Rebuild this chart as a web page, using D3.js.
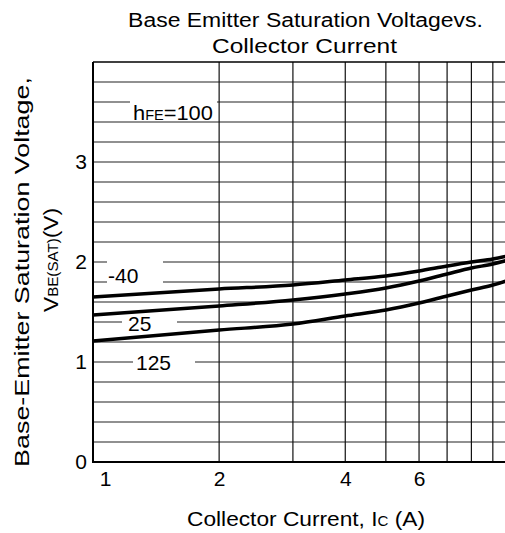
<!DOCTYPE html>
<html>
<head>
<meta charset="utf-8">
<script src="https://cdn.jsdelivr.net/npm/d3@7"></script>
<style>
    body { margin: 0; background: #fff; }
    svg { font-family: "Liberation Sans", Arial, sans-serif; display: block; }
</style>
</head>
<body>
<div id="chart"></div>
<script>

// collector current (A), log axis
const currents = [1, 2, 3, 4, 5, 6, 7, 8, 9, 10];

// VBE(SAT) in volts, hFE = 100
const vbeMinus40 = [1.65, 1.73, 1.77, 1.82, 1.86, 1.91, 1.96, 2.00, 2.03, 2.07];
const vbe25      = [1.47, 1.56, 1.62, 1.68, 1.74, 1.81, 1.88, 1.94, 1.98, 2.03];
const vbe125     = [1.21, 1.32, 1.38, 1.46, 1.52, 1.59, 1.66, 1.72, 1.77, 1.83];

const xTickValues = [1, 2, 4, 6];
const yTickValues = [0, 1, 2, 3];
const tempLabels = ["-40", "25", "125"];


class VbeChart {

    constructor(parentElement) {
        this.parentElement = parentElement;
        this.initVis();
    }

    initVis() {
        let vis = this;

        vis.margin = {top: 62, right: 0, bottom: 71, left: 93};
        vis.width = 419;
        vis.height = 400;

        vis.root = d3.select("#" + vis.parentElement).append("svg")
            .attr("width", 505)
            .attr("height", 533);

        vis.svg = vis.root.append("g")
            .attr("transform", "translate(" + vis.margin.left + "," + vis.margin.top + ")");

        vis.x = d3.scaleLog().domain([1, 10]).range([0, vis.width]);
        vis.y = d3.scaleLinear().domain([0, 4]).range([vis.height, 0]);

        vis.series = [
            {name: tempLabels[0], values: vbeMinus40},
            {name: tempLabels[1], values: vbe25},
            {name: tempLabels[2], values: vbe125}
        ];

        vis.updateVis();
    }

    // squeeze/stretch a text so it spans the given width
    fit(sel, w, x, y, rot) {
        let natural = sel.node().getComputedTextLength();
        let s = w / natural;
        sel.attr("transform", "translate(" + x + "," + y + ")" + (rot ? " rotate(-90)" : "") + " scale(" + s + ",1)");
    }

    updateVis() {
        let vis = this;

        // horizontal grid, every 0.2 V
        let hLines = d3.range(1, 20).map(i => i * 0.2);
        vis.svg.selectAll("line.hgrid")
            .data(hLines)
            .enter().append("line")
            .attr("class", "hgrid")
            .attr("x1", 0).attr("x2", vis.width)
            .attr("y1", d => vis.y(d)).attr("y2", d => vis.y(d))
            .attr("stroke", "#222")
            .attr("stroke-width", 1.2);

        // vertical grid at 2..9 A
        vis.svg.selectAll("line.vgrid")
            .data(d3.range(2, 10))
            .enter().append("line")
            .attr("class", "vgrid")
            .attr("x1", d => vis.x(d)).attr("x2", d => vis.x(d))
            .attr("y1", 0).attr("y2", vis.height)
            .attr("stroke", "#111")
            .attr("stroke-width", 1.2);

        // frame
        vis.svg.append("line")
            .attr("x1", 0).attr("x2", vis.width).attr("y1", 0).attr("y2", 0)
            .attr("stroke", "#000").attr("stroke-width", 1.5);
        vis.svg.append("line")
            .attr("x1", 0).attr("x2", 0).attr("y1", 0).attr("y2", vis.height + 1)
            .attr("stroke", "#000").attr("stroke-width", 2);
        vis.svg.append("line")
            .attr("x1", 0).attr("x2", vis.width).attr("y1", vis.height).attr("y2", vis.height)
            .attr("stroke", "#000").attr("stroke-width", 2);

        // label backgrounds that cut the grid
        let boxes = [
            {x: 37, y: 33, w: 87, h: 22},
            {x: 14, y: 193, w: 56, h: 29},
            {x: 29, y: 254, w: 55, h: 10},
            {x: 40, y: 294, w: 62, h: 10}
        ];
        vis.svg.selectAll("rect.lblbg")
            .data(boxes)
            .enter().append("rect")
            .attr("class", "lblbg")
            .attr("x", d => d.x).attr("y", d => d.y)
            .attr("width", d => d.w).attr("height", d => d.h)
            .attr("fill", "#fff");

        // curve labels
        let hfe = vis.root.append("text")
            .attr("font-size", 21);
        hfe.append("tspan").text("h");
        hfe.append("tspan").attr("font-size", 14).text("FE");
        hfe.append("tspan").text("=100");
        vis.fit(hfe, 80, 133, 120);

        let labelPos = [[15, 220.5], [35, 268.5], [43, 308]];
        vis.svg.selectAll("text.temp")
            .data(vis.series)
            .enter().append("text")
            .attr("class", "temp")
            .attr("x", (d, i) => labelPos[i][0])
            .attr("y", (d, i) => labelPos[i][1])
            .attr("font-size", 21)
            .text(d => d.name);

        // curves
        let line = d3.line()
            .x((d, i) => vis.x(currents[i]))
            .y(d => vis.y(d))
            .curve(d3.curveMonotoneX);

        vis.svg.selectAll("path.curve")
            .data(vis.series)
            .enter().append("path")
            .attr("class", "curve")
            .attr("d", d => line(d.values))
            .attr("fill", "none")
            .attr("stroke", "#000")
            .attr("stroke-width", 3.5);

        // y tick labels
        vis.yAxis = d3.axisLeft(vis.y)
            .tickValues(yTickValues)
            .tickSize(0)
            .tickPadding(6)
            .tickFormat(d3.format("d"));
        let ya = vis.svg.append("g").call(vis.yAxis);
        ya.select(".domain").remove();
        ya.selectAll("text")
            .attr("font-size", 21)
            .attr("font-family", "Liberation Sans, Arial, sans-serif")
            .attr("fill", "#000");

        // x tick labels
        vis.xAxis = d3.axisBottom(vis.x)
            .tickValues(xTickValues)
            .tickSize(0)
            .tickPadding(9)
            .tickFormat(d3.format("d"));
        let xa = vis.svg.append("g")
            .attr("transform", "translate(0," + vis.height + ")")
            .call(vis.xAxis);
        xa.select(".domain").remove();
        xa.selectAll("text")
            .attr("font-size", 21)
            .attr("font-family", "Liberation Sans, Arial, sans-serif")
            .attr("fill", "#000")
            .attr("dx", d => d === 1 ? 12 : 0);

        // titles
        let t1 = vis.root.append("text")
            .attr("font-size", 21).attr("text-anchor", "middle")
            .text("Base Emitter Saturation Voltagevs.");
        vis.fit(t1, 355, 305.5, 27);
        let t2 = vis.root.append("text")
            .attr("font-size", 21).attr("text-anchor", "middle")
            .text("Collector Current");
        vis.fit(t2, 185, 304.5, 53);

        let xl = vis.root.append("text")
            .attr("font-size", 21).attr("text-anchor", "middle");
        xl.append("tspan").text("Collector Current, I");
        xl.append("tspan").attr("font-size", 14).text("C");
        xl.append("tspan").text(" (A)");
        vis.fit(xl, 238, 306, 526);

        let yl1 = vis.root.append("text")
            .attr("font-size", 21).attr("text-anchor", "middle")
            .text("Base-Emitter Saturation Voltage,");
        vis.fit(yl1, 390, 28.5, 272, true);

        let yl2 = vis.root.append("text")
            .attr("font-size", 21).attr("text-anchor", "middle");
        yl2.append("tspan").text("V");
        yl2.append("tspan").attr("font-size", 14).text("BE(SAT)");
        yl2.append("tspan").text("(V)");
        vis.fit(yl2, 104, 58, 260, true);
    }
}

new VbeChart("chart");

</script>
</body>
</html>
